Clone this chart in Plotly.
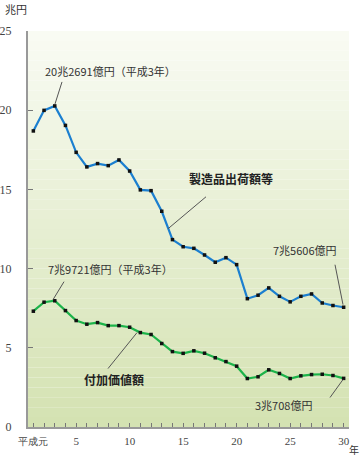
import plotly.graph_objects as go

years = list(range(1, 31))
shipments = [18.69, 19.99, 20.27, 19.04, 17.34, 16.42, 16.63, 16.50, 16.86, 16.16,
             14.97, 14.92, 13.62, 11.83, 11.38, 11.28, 10.86, 10.40, 10.69, 10.25,
             8.10, 8.32, 8.78, 8.25, 7.90, 8.25, 8.40, 7.83, 7.67, 7.56]
value_added = [7.31, 7.88, 7.97, 7.35, 6.72, 6.49, 6.59, 6.40, 6.40, 6.30,
               5.96, 5.84, 5.27, 4.76, 4.65, 4.81, 4.66, 4.37, 4.13, 3.84,
               3.06, 3.17, 3.61, 3.38, 3.06, 3.23, 3.31, 3.33, 3.25, 3.07]
x_tick_vals = years
x_tick_text = ["<span style='font-size:10px'>平成元</span>" if y == 1 else (str(y) if y % 5 == 0 else "") for y in years]
y_tick_vals = [0, 5, 10, 15, 20, 25]

FONT = "Noto Sans CJK JP"
NUMFONT = "Liberation Serif"

fig = go.Figure()

# gradient background
n = 40
top = (249, 251, 243)
bot = (212, 226, 178)
shapes = []
for i in range(n):
    t = i / (n - 1)
    c = tuple(int(round(top[k] + (bot[k] - top[k]) * t)) for k in range(3))
    shapes.append(dict(type="rect", xref="x domain", yref="y domain",
                       x0=0, x1=1, y0=1 - (i + 1) / n, y1=1 - i / n,
                       fillcolor="rgb(%d,%d,%d)" % c, line=dict(width=0), layer="below"))

fig.add_trace(go.Scatter(x=years, y=shipments, mode="lines+markers",
                         line=dict(color="#1b7fd0", width=2.2),
                         marker=dict(symbol="square", size=3.5, color="#111"),
                         hoverinfo="skip", showlegend=False))
fig.add_trace(go.Scatter(x=years, y=value_added, mode="lines+markers",
                         line=dict(color="#1cb34a", width=2.2),
                         marker=dict(symbol="square", size=3.5, color="#111"),
                         hoverinfo="skip", showlegend=False))

W, H = 364, 456
L, R, T, B = 28, 15, 31, 28.5
pw, ph = W - L - R, H - T - B

def px(xp):
    return (xp - L) / pw

def py(yp):
    return (H - B - yp) / ph

def leader(x0, y0, x1, y1):
    shapes.append(dict(type="line", xref="paper", yref="paper",
                       x0=px(x0), y0=py(y0), x1=px(x1), y1=py(y1),
                       line=dict(color="#555", width=1)))

leader(62, 82, 55, 104)
leader(206, 197, 168, 229)
leader(335, 265, 343, 305)
leader(64, 282, 53, 300)
leader(108, 369, 137, 333)
leader(330, 398, 343, 380)

annots = []
def txt(x, y, s, size=11, bold=False, anchor="left", color="#333"):
    annots.append(dict(xref="paper", yref="paper", x=px(x), y=py(y),
                       text=("<b>%s</b>" % s) if bold else s,
                       showarrow=False, xanchor=anchor, yanchor="middle",
                       font=dict(family=FONT, size=size, color=color)))

txt(43, 71, "20兆2691億円（平成3年）")
txt(187, 179, "製造品出荷額等", size=12, bold=True, color="#222")
txt(271, 250, "7兆5606億円")
txt(46, 269, "7兆9721億円（平成3年）")
txt(82, 380, "付加価値額", size=12, bold=True, color="#222")
txt(253, 405, "3兆708億円")
txt(3, 9, "兆円", size=11)
txt(347, 450, "年", size=10)

fig.update_layout(
    width=W, height=H,
    margin=dict(l=L, r=R, t=T, b=B, autoexpand=False),
    paper_bgcolor="white", plot_bgcolor="white",
    shapes=shapes, annotations=annots,
    xaxis=dict(range=[0.5, 30.5], tickvals=x_tick_vals, ticktext=x_tick_text, automargin=False,
               ticks="inside", ticklen=4, tickcolor="#777", tickwidth=1,
               showline=True, linecolor="#999", linewidth=2, showgrid=False, zeroline=False,
               tickfont=dict(family=NUMFONT, size=11, color="#444"), ticklabelstandoff=3),
    yaxis=dict(range=[0, 25], tickvals=y_tick_vals, automargin=False,
               ticks="inside", ticklen=5, tickcolor="#777", tickwidth=1,
               showline=True, linecolor="#999", linewidth=2, showgrid=False, zeroline=False,
               tickfont=dict(family=NUMFONT, size=12, color="#444"), ticklabelstandoff=12),
)

fig.write_html("out.html", config={"displayModeBar": False},
               post_script="document.body.style.margin='0px';document.body.style.overflow='hidden';")
